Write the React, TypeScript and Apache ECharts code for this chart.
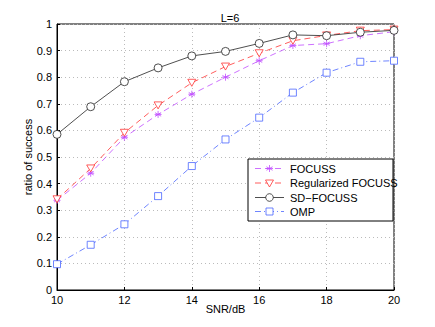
import React, { useEffect, useRef } from "react";
import * as echarts from "echarts";

const snr = [10, 11, 12, 13, 14, 15, 16, 17, 18, 19, 20];
const focuss = [0.337, 0.439, 0.574, 0.66, 0.736, 0.8, 0.862, 0.919, 0.926, 0.956, 0.971];
const regFocuss = [0.341, 0.457, 0.591, 0.694, 0.779, 0.84, 0.89, 0.937, 0.957, 0.975, 0.979];
const sdFocuss = [0.585, 0.689, 0.783, 0.835, 0.88, 0.897, 0.927, 0.959, 0.956, 0.969, 0.976];
const omp = [0.097, 0.17, 0.247, 0.353, 0.466, 0.566, 0.648, 0.742, 0.817, 0.858, 0.862];
const seriesNames = ["FOCUSS", "Regularized FOCUSS", "SD\u2212FOCUSS", "OMP"];

const FONT = "Liberation Sans";
const MAG = "#c04cff";
const RED = "#ff3333";
const BLK = "#222222";
const BLU = "#4a66ff";
const asterisk =
  "path://M5,0 L5,10 M0.67,2.5 L9.33,7.5 M0.67,7.5 L9.33,2.5 M0,5 L10,5";
const triDown = "path://M0,0 L10,0 L5,9 Z";
const circ = "path://M0,5 A5,5 0 1 1 10,5 A5,5 0 1 1 0,5 Z";
const sq = "path://M0,0 L10,0 L10,10 L0,10 Z";

function legendGraphic() {
  const bx = 248, by = 159, bw = 145, bh = 62;
  const rows = [168.5, 183, 197.5, 211.5];
  const x0 = 255, x1 = 284, xm = 269.5, tx = 290;
  const cols = [MAG, RED, BLK, BLU];
  const dashes: any[] = [[6, 4], [6, 4], null, [6, 3, 1, 3]];
  const els: any[] = [
    { type: "rect", shape: { x: bx, y: by, width: bw, height: bh }, style: { fill: "#fff", stroke: "#000", lineWidth: 1 } },
  ];
  rows.forEach((y, i) => {
    els.push({
      type: "line",
      shape: { x1: x0, y1: y, x2: x1, y2: y },
      style: { stroke: cols[i], lineWidth: 0.8, lineDash: dashes[i] || undefined },
    });
    els.push({
      type: "text",
      x: tx,
      y: y,
      style: { text: seriesNames[i], fontFamily: FONT, fontSize: 11, fill: "#000", verticalAlign: "middle", align: "left" },
    });
  });
  const r = 3.5;
  const y0 = rows[0];
  [[0, -r, 0, r], [-r * 0.87, -r / 2, r * 0.87, r / 2], [-r * 0.87, r / 2, r * 0.87, -r / 2], [-r, 0, r, 0]].forEach((s) =>
    els.push({ type: "line", shape: { x1: xm + s[0], y1: y0 + s[1], x2: xm + s[2], y2: y0 + s[3] }, style: { stroke: MAG, lineWidth: 0.8 } })
  );
  const y1 = rows[1];
  els.push({
    type: "polygon",
    shape: { points: [[xm - 4, y1 - 3], [xm + 4, y1 - 3], [xm, y1 + 4]] },
    style: { fill: "#fff", stroke: RED, lineWidth: 0.8 },
  });
  els.push({ type: "circle", shape: { cx: xm, cy: rows[2], r: 3.8 }, style: { fill: "#fff", stroke: BLK, lineWidth: 0.8 } });
  els.push({ type: "rect", shape: { x: xm - 3.5, y: rows[3] - 3.5, width: 7, height: 7 }, style: { fill: "#fff", stroke: BLU, lineWidth: 0.8 } });
  return els.map((e) => ({ ...e, z: 100 }));
}

export default function App() {
  const ref = useRef<HTMLDivElement>(null);
  useEffect(() => {
    if (!ref.current) return;
    const chart = echarts.init(ref.current, undefined, { renderer: "svg" });
    const pair = (arr: number[]) => snr.map((x, i) => [x, arr[i]]);
    const axisText = { fontFamily: FONT, fontSize: 11, color: "#000" };
    const split = { show: true, lineStyle: { color: "#bbb", type: [1, 3], width: 1 } };
    chart.setOption({
      animation: false,
      backgroundColor: "#fff",
      title: {
        text: "L=6",
        left: 225,
        textAlign: "center",
        top: 7,
        textStyle: { ...axisText, fontWeight: "normal" },
      },
      grid: {
        left: 57,
        right: 41,
        top: 24,
        bottom: 37,
        show: true,
        borderColor: "#000",
        borderWidth: 1,
        backgroundColor: "transparent",
      },
      graphic: legendGraphic(),
      xAxis: {
        type: "value",
        min: 10,
        max: 20,
        interval: 2,
        name: "SNR/dB",
        nameLocation: "middle",
        nameGap: 13,
        nameMoveOverlap: false,
        nameTextStyle: axisText,
        axisLine: { lineStyle: { color: "#000", width: 1 } },
        axisTick: { inside: true, length: 3, lineStyle: { color: "#000" } },
        axisLabel: { ...axisText, margin: 4 },
        splitLine: split,
      },
      yAxis: {
        type: "value",
        min: 0,
        max: 1,
        interval: 0.1,
        name: "ratio of success",
        nameLocation: "middle",
        nameGap: 24,
        nameMoveOverlap: false,
        nameTextStyle: axisText,
        axisLine: { show: true, lineStyle: { color: "#000", width: 1 } },
        axisTick: { show: true, inside: true, length: 3, lineStyle: { color: "#000" } },
        axisLabel: {
          ...axisText,
          margin: 5,
          formatter: (v: number) => String(Math.round(v * 10) / 10),
        },
        splitLine: split,
      },
      series: [
        {
          name: seriesNames[0],
          type: "line",
          data: pair(focuss),
          symbol: asterisk,
          symbolSize: 7,
          itemStyle: { color: MAG, borderColor: MAG, borderWidth: 0.8 },
          lineStyle: { color: MAG, width: 0.8, type: [6, 4] },
          z: 3,
        },
        {
          name: seriesNames[1],
          type: "line",
          data: pair(regFocuss),
          symbol: triDown,
          symbolSize: [8, 7],
          itemStyle: { color: "#fff", borderColor: RED, borderWidth: 0.8 },
          lineStyle: { color: RED, width: 0.8, type: [6, 4] },
          z: 4,
        },
        {
          name: seriesNames[2],
          type: "line",
          data: pair(sdFocuss),
          symbol: circ,
          symbolSize: 8,
          itemStyle: { color: "#fff", borderColor: BLK, borderWidth: 0.8 },
          lineStyle: { color: BLK, width: 0.8, type: "solid" },
          z: 5,
        },
        {
          name: seriesNames[3],
          type: "line",
          data: pair(omp),
          symbol: sq,
          symbolSize: 7,
          itemStyle: { color: "#fff", borderColor: BLU, borderWidth: 0.8 },
          lineStyle: { color: BLU, width: 0.8, type: [6, 3, 1, 3] },
          z: 2,
        },
      ],
    });
    return () => chart.dispose();
  }, []);
  return <div ref={ref} style={{ width: 435, height: 327, margin: -8 }} />;
}
